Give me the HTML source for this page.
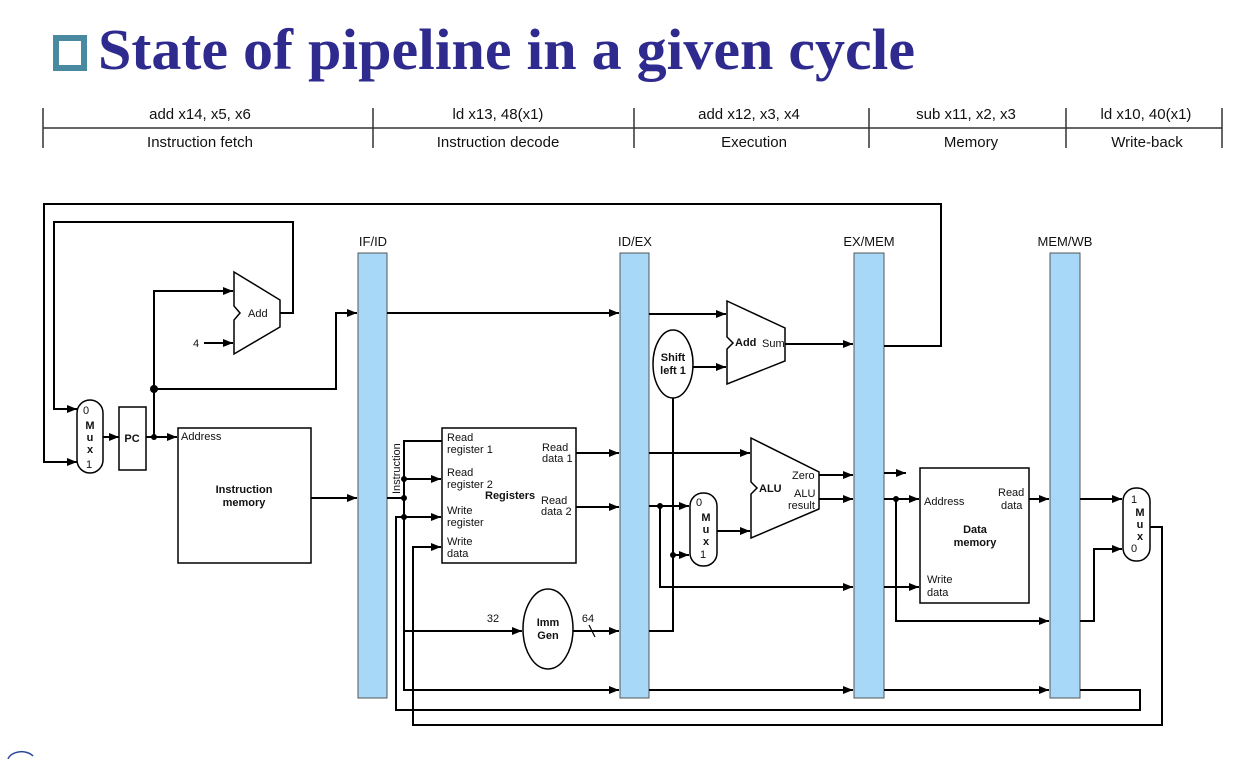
<!DOCTYPE html>
<html><head><meta charset="utf-8"><style>
html,body{margin:0;padding:0;background:#fff;}
svg{display:block;}
text{font-family:"Liberation Sans",sans-serif;fill:#111;}
.b{font-weight:bold;}
</style></head><body>
<svg width="1249" height="759" viewBox="0 0 1249 759" xmlns="http://www.w3.org/2000/svg">
<defs>
<marker id="a" markerWidth="10" markerHeight="8" refX="10" refY="4" orient="auto" markerUnits="userSpaceOnUse">
<path d="M0,0 L10,4 L0,8 z" fill="#000"/></marker>
</defs>
<!-- title -->
<rect x="56" y="38" width="28" height="30" fill="#fff" stroke="#4a8aa0" stroke-width="6"/>
<text x="98" y="69" font-family="Liberation Serif,serif" font-weight="bold" font-size="58" fill="#2e2a8e" textLength="817" lengthAdjust="spacingAndGlyphs" style="font-family:'Liberation Serif',serif;fill:#2e2a8e">State of pipeline in a given cycle</text>
<!-- header -->
<g stroke="#333" stroke-width="1.5">
<line x1="43" y1="128" x2="1222" y2="128"/>
<line x1="43" y1="108" x2="43" y2="148"/><line x1="373" y1="108" x2="373" y2="148"/>
<line x1="634" y1="108" x2="634" y2="148"/><line x1="869" y1="108" x2="869" y2="148"/>
<line x1="1066" y1="108" x2="1066" y2="148"/><line x1="1222" y1="108" x2="1222" y2="148"/>
</g>
<g font-size="15" text-anchor="middle">
<text x="200" y="119">add x14, x5, x6</text><text x="200" y="147">Instruction fetch</text>
<text x="498" y="119">ld x13, 48(x1)</text><text x="498" y="147">Instruction decode</text>
<text x="749" y="119">add x12, x3, x4</text><text x="754" y="147">Execution</text>
<text x="966" y="119">sub x11, x2, x3</text><text x="971" y="147">Memory</text>
<text x="1146" y="119">ld x10, 40(x1)</text><text x="1147" y="147">Write-back</text>
</g>
<!-- pipeline registers -->
<g fill="#a8d8f8" stroke="#555" stroke-width="1">
<rect x="358" y="253" width="29" height="445"/>
<rect x="620" y="253" width="29" height="445"/>
<rect x="854" y="253" width="30" height="445"/>
<rect x="1050" y="253" width="30" height="445"/>
</g>
<g font-size="13" text-anchor="middle">
<text x="373" y="246">IF/ID</text><text x="635" y="246">ID/EX</text>
<text x="869" y="246">EX/MEM</text><text x="1065" y="246">MEM/WB</text>
</g>
<g fill="none" stroke="#000" stroke-width="2">
<polyline points="884,346 941,346 941,204 44,204 44,462 77,462" marker-end="url(#a)"/>
<polyline points="280,313 293,313 293,222 54,222 54,409 77,409" marker-end="url(#a)"/>
<line x1="103" y1="437" x2="119" y2="437" marker-end="url(#a)"/>
<line x1="146" y1="437" x2="177" y2="437" marker-end="url(#a)"/>
<polyline points="154,437 154,291 233,291" marker-end="url(#a)"/>
<polyline points="154,389 336,389 336,313 357,313" marker-end="url(#a)"/>
<line x1="204" y1="343" x2="233" y2="343" marker-end="url(#a)"/>
<line x1="311" y1="498" x2="357" y2="498" marker-end="url(#a)"/>
<line x1="387" y1="313" x2="619" y2="313" marker-end="url(#a)"/>
<line x1="387" y1="498" x2="404" y2="498"/>
<polyline points="442,441 404,441 404,690 619,690" marker-end="url(#a)"/>
<line x1="404" y1="479" x2="441" y2="479" marker-end="url(#a)"/>
<line x1="404" y1="517" x2="441" y2="517" marker-end="url(#a)"/>
<line x1="404" y1="631" x2="522" y2="631" marker-end="url(#a)"/>
<polyline points="404,517 396,517 396,710 1140,710 1140,690 1080,690"/>
<polyline points="1150,527 1162,527 1162,725 413,725 413,547 441,547" marker-end="url(#a)"/>
<line x1="576" y1="453" x2="619" y2="453" marker-end="url(#a)"/>
<line x1="576" y1="507" x2="619" y2="507" marker-end="url(#a)"/>
<line x1="573" y1="631" x2="619" y2="631" marker-end="url(#a)"/>
<line x1="649" y1="314" x2="726" y2="314" marker-end="url(#a)"/>
<polyline points="649,631 673,631 673,398"/>
<line x1="693" y1="367" x2="726" y2="367" marker-end="url(#a)"/>
<line x1="785" y1="344" x2="853" y2="344" marker-end="url(#a)"/>
<line x1="649" y1="453" x2="750" y2="453" marker-end="url(#a)"/>
<line x1="649" y1="506" x2="689" y2="506" marker-end="url(#a)"/>
<polyline points="660,506 660,587 853,587" marker-end="url(#a)"/>
<line x1="673" y1="555" x2="689" y2="555" marker-end="url(#a)"/>
<line x1="717" y1="531" x2="750" y2="531" marker-end="url(#a)"/>
<line x1="819" y1="475" x2="853" y2="475" marker-end="url(#a)"/>
<line x1="819" y1="499" x2="853" y2="499" marker-end="url(#a)"/>
<line x1="649" y1="690" x2="853" y2="690" marker-end="url(#a)"/>
<line x1="884" y1="473" x2="906" y2="473" marker-end="url(#a)"/>
<line x1="884" y1="499" x2="919" y2="499" marker-end="url(#a)"/>
<polyline points="896,499 896,621 1049,621" marker-end="url(#a)"/>
<line x1="884" y1="587" x2="919" y2="587" marker-end="url(#a)"/>
<line x1="884" y1="690" x2="1049" y2="690" marker-end="url(#a)"/>
<line x1="1029" y1="499" x2="1049" y2="499" marker-end="url(#a)"/>
<line x1="1080" y1="499" x2="1122" y2="499" marker-end="url(#a)"/>
<polyline points="1080,621 1094,621 1094,549 1122,549" marker-end="url(#a)"/>
</g>
<g stroke="#000" stroke-width="1.2" fill="none"><line x1="589" y1="625" x2="595" y2="637"/></g>
<g fill="#000">
<circle cx="154" cy="437" r="3"/><circle cx="154" cy="389" r="4"/>
<circle cx="404" cy="479" r="3"/><circle cx="404" cy="498" r="3"/><circle cx="404" cy="517" r="3"/>
<circle cx="660" cy="506" r="3"/><circle cx="673" cy="555" r="3"/><circle cx="896" cy="499" r="3"/>
</g>
<g fill="#fff" stroke="#000" stroke-width="1.5">
<rect x="77" y="400" width="26" height="73" rx="13"/>
<rect x="119" y="407" width="27" height="63"/>
<polygon points="234,272 280,300 280,327 234,354 234,320 240,313 234,306"/>
<rect x="178" y="428" width="133" height="135"/>
<rect x="442" y="428" width="134" height="135"/>
<ellipse cx="548" cy="629" rx="25" ry="40"/>
<ellipse cx="673" cy="364" rx="20" ry="34"/>
<polygon points="727,301 785,328 785,361 727,384 727,349 733,343 727,337"/>
<polygon points="751,438 819,472 819,509 751,538 751,494 757,488 751,482"/>
<rect x="690" y="493" width="27" height="73" rx="13"/>
<rect x="920" y="468" width="109" height="135"/>
<rect x="1123" y="488" width="27" height="73" rx="13"/>
</g>
<g font-size="11">
<text x="83" y="414">0</text><text x="86" y="468">1</text>
<text x="90" y="429" class="b" text-anchor="middle">M</text><text x="90" y="441" class="b" text-anchor="middle">u</text><text x="90" y="453" class="b" text-anchor="middle">x</text>
<text x="132" y="442" class="b" text-anchor="middle">PC</text>
<text x="248" y="317">Add</text>
<text x="193" y="347">4</text>
<text x="181" y="440">Address</text>
<text x="244" y="493" class="b" text-anchor="middle">Instruction</text><text x="244" y="506" class="b" text-anchor="middle">memory</text>
<text transform="translate(400,494) rotate(-90)" font-size="11">Instruction</text>
<text x="447" y="441">Read</text><text x="447" y="453">register 1</text>
<text x="447" y="476">Read</text><text x="447" y="488">register 2</text>
<text x="485" y="499" class="b">Registers</text>
<text x="447" y="514">Write</text><text x="447" y="526">register</text>
<text x="447" y="545">Write</text><text x="447" y="557">data</text>
<text x="542" y="451">Read</text><text x="542" y="462">data 1</text>
<text x="541" y="504">Read</text><text x="541" y="515">data 2</text>
<text x="548" y="626" class="b" text-anchor="middle">Imm</text><text x="548" y="639" class="b" text-anchor="middle">Gen</text>
<text x="493" y="622" text-anchor="middle">32</text><text x="588" y="622" text-anchor="middle">64</text>
<text x="673" y="361" class="b" text-anchor="middle">Shift</text><text x="673" y="374" class="b" text-anchor="middle">left 1</text>
<text x="735" y="346" class="b">Add</text><text x="762" y="347">Sum</text>
<text x="759" y="492" class="b">ALU</text>
<text x="792" y="479">Zero</text><text x="794" y="497">ALU</text><text x="788" y="509">result</text>
<text x="696" y="506">0</text><text x="700" y="558">1</text>
<text x="706" y="521" class="b" text-anchor="middle">M</text><text x="706" y="533" class="b" text-anchor="middle">u</text><text x="706" y="545" class="b" text-anchor="middle">x</text>
<text x="924" y="505">Address</text>
<text x="998" y="496">Read</text><text x="1001" y="509">data</text>
<text x="975" y="533" class="b" text-anchor="middle">Data</text><text x="975" y="546" class="b" text-anchor="middle">memory</text>
<text x="927" y="583">Write</text><text x="927" y="596">data</text>
<text x="1131" y="503">1</text><text x="1131" y="552">0</text>
<text x="1140" y="516" class="b" text-anchor="middle">M</text><text x="1140" y="528" class="b" text-anchor="middle">u</text><text x="1140" y="540" class="b" text-anchor="middle">x</text>
</g>
<path d="M8,759 A14,10 0 0 1 33,756" fill="none" stroke="#2e4a9e" stroke-width="1.5"/>
</svg>
</body></html>
